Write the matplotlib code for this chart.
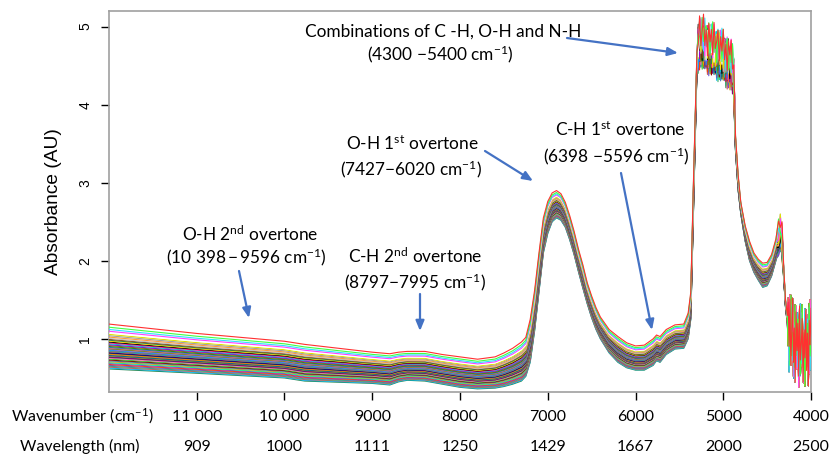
import numpy as np
import matplotlib
matplotlib.use("Agg")
import matplotlib.pyplot as plt
from matplotlib import transforms

plt.rcParams['mathtext.fontset'] = 'custom'
plt.rcParams['mathtext.rm'] = 'Lato'
plt.rcParams['mathtext.it'] = 'Lato:italic'
plt.rcParams['axes.unicode_minus'] = True

# ---------------- data ----------------
wn = [12000, 11000, 10000, 9770, 9000, 8800, 8700, 8600, 8400, 8200, 8000,
      7800, 7600, 7500, 7400, 7300, 7250, 7200, 7150, 7100, 7050, 7000, 6950,
      6900, 6850, 6800, 6750, 6700, 6650, 6600, 6550, 6500, 6450, 6400, 6300,
      6200, 6100, 6000, 5900, 5800, 5760, 5720, 5650, 5550, 5450, 5400, 5370,
      5340]
top = [1.19, 1.07, 0.97, 0.93, 0.83, 0.81, 0.83, 0.84, 0.84, 0.80, 0.77,
       0.74, 0.77, 0.82, 0.88, 0.96, 1.02, 1.25, 1.62, 2.10, 2.55, 2.76, 2.87,
       2.90, 2.86, 2.75, 2.58, 2.38, 2.15, 1.95, 1.72, 1.55, 1.40, 1.28, 1.12,
       1.03, 0.95, 0.91, 0.92, 1.00, 1.05, 1.03, 1.12, 1.18, 1.19, 1.33, 1.60,
       3.00]
bottom = [0.615, 0.56, 0.50, 0.46, 0.43, 0.41, 0.45, 0.47, 0.46, 0.42, 0.38,
          0.36, 0.37, 0.39, 0.42, 0.46, 0.52, 0.70, 1.10, 1.60, 2.10, 2.35, 2.50,
          2.55, 2.52, 2.43, 2.27, 2.08, 1.86, 1.65, 1.45, 1.27, 1.12, 1.00, 0.82,
          0.70, 0.63, 0.60, 0.60, 0.66, 0.72, 0.70, 0.80, 0.87, 0.88, 1.00, 1.25,
          2.60]

# combination band plateau (noisy)
plat_wn = [5300, 5285, 5270, 5255, 5240, 5225, 5210, 5195, 5180, 5165, 5150,
           5135, 5120, 5105, 5090, 5075, 5060, 5045, 5030, 5015, 5000, 4985,
           4970, 4955, 4940, 4925, 4910, 4895, 4880]
plat_mean = [4.55, 4.75, 4.80, 4.80, 4.78, 4.78, 4.76, 4.75, 4.74, 4.73, 4.72,
             4.71, 4.70, 4.69, 4.68, 4.67, 4.66, 4.65, 4.64, 4.63, 4.62, 4.60,
             4.58, 4.57, 4.55, 4.53, 4.50, 4.45, 4.35]

# 4860 - 4270 region
tail_wn = [4860, 4830, 4800, 4750, 4700, 4650, 4600, 4550, 4500, 4450, 4400,
           4370, 4350, 4330, 4310, 4290, 4270]
tail_top = [3.60, 3.10, 2.75, 2.45, 2.25, 2.10, 2.02, 1.97, 1.98, 2.08, 2.28,
            2.42, 2.50, 2.35, 1.90, 1.50, 1.30]
tail_bottom = [3.40, 2.90, 2.60, 2.25, 2.00, 1.85, 1.75, 1.66, 1.68, 1.80, 2.00,
               2.15, 2.25, 2.15, 1.75, 1.40, 1.20]

# final noisy region 4260 - 4000
end_wn = [4260, 4250, 4240, 4230, 4220, 4210, 4200, 4190, 4180, 4170, 4160,
          4150, 4140, 4130, 4120, 4110, 4100, 4090, 4080, 4070, 4060, 4050,
          4040, 4030, 4020, 4010, 4000]
end_mean = [1.20, 1.12, 1.06, 1.02, 1.00, 0.98, 0.97, 0.96, 0.95, 0.95, 0.94,
            0.93, 0.92, 0.92, 0.91, 0.90, 0.90, 0.90, 0.90, 0.90, 0.91, 0.92,
            0.93, 0.94, 0.95, 0.96, 0.96]

# hand-typed jitter pattern used for the noisy regions
jitter = [0.18, -0.12, 0.25, -0.20, 0.05, 0.30, -0.15, 0.10, -0.28, 0.22,
          -0.05, 0.15, -0.22, 0.28, -0.10, 0.02, 0.20, -0.25, 0.12, -0.08,
          0.26, -0.18, 0.08, -0.30, 0.16, -0.02, 0.24, -0.14, 0.04, -0.26,
          0.14, -0.06, 0.22, -0.16, 0.10, -0.22, 0.30, -0.12, 0.06, -0.04,
          -0.18, 0.27, -0.09, 0.13]

# position of each spectrum between the bottom and top envelopes
frac = [1.00, 0.93, 0.88, 0.84, 0.80, 0.77, 0.74, 0.71, 0.68, 0.66, 0.64,
        0.62, 0.60, 0.58, 0.56, 0.54, 0.52, 0.50, 0.48, 0.47, 0.45, 0.44,
        0.42, 0.41, 0.39, 0.38, 0.36, 0.35, 0.33, 0.32, 0.30, 0.29, 0.27,
        0.26, 0.24, 0.22, 0.20, 0.18, 0.16, 0.14, 0.12, 0.10, 0.08, 0.06,
        0.04, 0.02, 0.00]

colors = ['#FF3030', '#40FF40', '#30E0FF', '#FF40FF', '#FFFFFF', '#E0E000',
          '#A0A0A0', '#FF9A3A', '#C0C0C0', '#8B4513', '#2E8B57', '#FFD700',
          '#000000', '#FF1493', '#00CED1', '#9400D3', '#808000', '#228B22',
          '#4169E1', '#FF6347', '#6B8E23', '#BA55D3', '#1E90FF', '#A0522D',
          '#20B2AA', '#DC143C', '#00008B', '#556B2F', '#FF8C00', '#483D8B',
          '#008080', '#B8860B', '#800080', '#2F4F4F', '#FF69B4', '#32CD32',
          '#8B0000', '#4682B4', '#DAA520', '#00FA9A', '#9932CC', '#FF4500',
          '#6A5ACD', '#3CB371', '#CD5C5C', '#00BFFF', '#2E8B57']

xticks = [11000, 10000, 9000, 8000, 7000, 6000, 5000, 4000]
xtick_labels = ['11 000', '10 000', '9000', '8000', '7000', '6000', '5000', '4000']
wavelength_labels = ['909', '1000', '1111', '1250', '1429', '1667', '2000', '2500']
yticks = [1, 2, 3, 4, 5]

# ---------------- figure ----------------
W, H = 834, 455
fig = plt.figure(figsize=(W / 100, H / 100), dpi=100)
ax = fig.add_axes([109 / W, 1 - 392 / H, (811 - 109) / W, (392 - 11) / H])

top_a, bot_a = np.array(top), np.array(bottom)
pm_a = np.array(plat_mean)
tt_a, tb_a = np.array(tail_top), np.array(tail_bottom)
jit = np.array(jitter)
n = len(frac)
for i, f in enumerate(frac):
    smooth = bot_a + f * (top_a - bot_a)
    pj = np.roll(jit, 7 * i)[:len(plat_wn)]
    plat = pm_a + (f - 0.5) * 0.25 + pj * 0.85
    plat[0] = pm_a[0] + (f - 0.5) * 0.25
    tail = tb_a + f * (tt_a - tb_a)
    tail[11] += np.roll(jit, 3 * i)[0] * 0.5
    tail[12] += np.roll(jit, 5 * i)[1] * 0.6
    tail[13] += np.roll(jit, 9 * i)[2] * 0.6
    ej = np.roll(jit, 11 * i)[:len(end_wn)]
    end = np.array(end_mean) + ej * 1.8
    x = list(wn) + plat_wn + tail_wn + end_wn
    y = list(smooth) + list(plat) + list(tail) + list(end)
    ax.plot(x, y, color=colors[i % len(colors)], lw=0.8, zorder=n - i)

ax.set_xlim(12000, 4000)
ax.set_ylim(0.32, 5.2)
for s in ax.spines.values():
    s.set_color('#A0A0A0')
    s.set_linewidth(1.2)
ax.set_xticks(xticks)
ax.set_xticklabels([])
ax.set_yticks(yticks)
ax.set_yticklabels([str(v) for v in yticks], rotation=90, va='center',
                   fontsize=10, family='Liberation Sans')
ax.tick_params(axis='both', direction='out', length=6, width=1, color='black', pad=6)
ylab = ax.set_ylabel('Absorbance (AU)', fontsize=12, family='Liberation Sans',
                     labelpad=12)

cal = 'Lato'
# two rows of x labels (baseline positions in pixels)
tr = transforms.blended_transform_factory(ax.transData, fig.transFigure)
row_texts = []
for xv, l1, l2 in zip(xticks, xtick_labels, wavelength_labels):
    row_texts.append(ax.text(xv, 1 - 421 / H, l1, transform=tr, ha='center',
                             va='baseline', fontsize=10.5, family=cal))
    row_texts.append(ax.text(xv, 1 - 451 / H, l2, transform=tr, ha='center',
                             va='baseline', fontsize=10.5, family=cal))
t_wn = fig.text(82 / W, 1 - 421 / H, 'Wavenumber (cm$^{\u22121}$)', ha='center',
                va='baseline', fontsize=10.5, family=cal)
t_wl = fig.text(80 / W, 1 - 451 / H, 'Wavelength (nm)', ha='center',
                va='baseline', fontsize=10.5, family=cal)

# annotations (positions given in pixels of the figure)
acol = '#4472C4'
def px(xp, yp):
    return xp / W, 1 - yp / H

ann_texts = []
ann_targets = []
def label(xp, yp, s, width):
    t = fig.text(*px(xp, yp), s, ha='center', va='baseline', fontsize=12,
                 family=cal)
    ann_texts.append(t)
    ann_targets.append(width)

def arrow(x0, y0, x1, y1):
    ax.annotate('', xy=px(x1, y1), xytext=px(x0, y0),
                xycoords='figure fraction', textcoords='figure fraction',
                arrowprops=dict(arrowstyle='-|>,head_length=0.6,head_width=0.25',
                                color=acol, lw=1.6, shrinkA=0, shrinkB=0))

label(443, 37, 'Combinations of C -H, O-H and N-H', 274)
label(440, 60, '(4300 \u22125400 cm$^{\u22121}$)', 144)
arrow(567, 38, 678, 53)

label(412, 150, 'O-H 1$^{\\mathrm{st}}$ overtone', 130)
label(411, 175, '(7427\u22126020 cm$^{\u22121}$)', 142)
arrow(485, 151, 533, 181)

label(620, 136, 'C-H 1$^{\\mathrm{st}}$ overtone', 130)
label(616, 162, '(6398 \u22125596 cm$^{\u22121}$)', 145)
arrow(621, 173, 652, 330)

label(250, 241, 'O-H 2$^{\\mathrm{nd}}$ overtone', 135)
label(246, 263, '(10 398\u2009\u2212\u20099596 cm$^{\u22121}$)', 162)
arrow(239, 271, 249, 318)

label(415, 263, 'C-H 2$^{\\mathrm{nd}}$ overtone', 134)
label(415, 288, '(8797\u22127995 cm$^{\u22121}$)', 144)
arrow(420, 294, 420, 331)

# ---- scale fonts so the text widths match the reference ----
fig.canvas.draw()
r = fig.canvas.get_renderer()
def group_fit(texts, targets):
    widths = [t.get_window_extent(r).width for t in texts]
    sc = sum(targets) / sum(widths)
    for t in texts:
        t.set_fontsize(t.get_fontsize() * sc)

group_fit(ann_texts, ann_targets)
group_fit([t_wn, t_wl, row_texts[0]], [145, 125, 44])
sz = t_wn.get_fontsize()
for t in row_texts:
    t.set_fontsize(sz)
hgt = ylab.get_window_extent(r).height
ylab.set_fontsize(ylab.get_fontsize() * 147 / hgt)

fig.savefig('out.png', dpi=100)
